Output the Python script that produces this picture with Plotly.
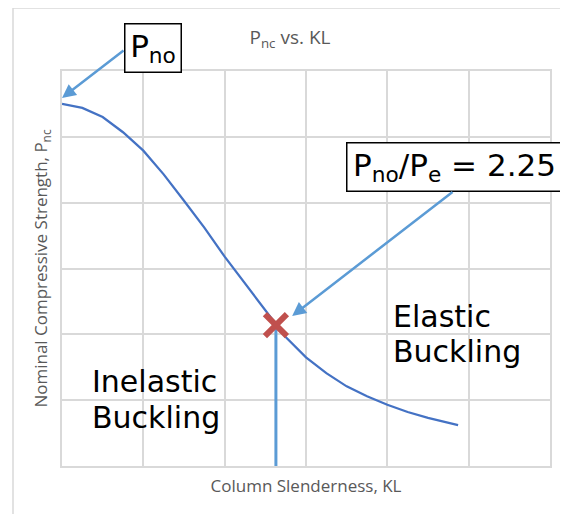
import plotly.graph_objects as go

# ---- data ----
kl = [0, 0.25, 0.5, 0.75, 1.0, 1.25, 1.5, 1.75, 2.0, 2.25, 2.5, 2.63,
      2.75, 3.0, 3.25, 3.5, 3.75, 4.0, 4.25, 4.5, 4.75, 4.87]
pnc = [5.50, 5.44, 5.30, 5.07, 4.79, 4.43, 4.03, 3.62, 3.18, 2.77, 2.36, 2.14,
       1.96, 1.65, 1.41, 1.21, 1.06, 0.93, 0.82, 0.73, 0.66, 0.62]
transition_kl = [2.63]
transition_pnc = [2.14]
drop_kl = [2.63, 2.63]
drop_pnc = [2.14, 0.0]

GRID = "#d9d9d9"
TXT = "#595959"
CURVE = "#4472C4"
LIGHT = "#5B9BD5"
RED = "#C0504D"

fig = go.Figure()
fig.add_trace(go.Scatter(x=kl, y=pnc, mode="lines",
                         line=dict(color=CURVE, width=2.25), hoverinfo="skip"))
fig.add_trace(go.Scatter(x=drop_kl, y=drop_pnc, mode="lines",
                         line=dict(color=LIGHT, width=3), hoverinfo="skip"))
fig.add_trace(go.Scatter(x=transition_kl, y=transition_pnc, mode="markers",
                         marker=dict(symbol="x-thin", size=22,
                                     line=dict(color=RED, width=6)),
                         hoverinfo="skip"))

OFF = 8  # page body margin
W, H = 568 - OFF, 514 - OFF
# plot area in page pixels: x 62..550, y 71..466
L, T = 62 - OFF, 71 - OFF
R = W - (550 - OFF)
B = H - (466 - OFF)
pw, ph = W - L - R, H - T - B


def px(xp):
    return (xp - OFF - L) / pw


def py(yp):
    return (H - B - (yp - OFF)) / ph


def big(text, x_left, baseline):
    size = 30
    return dict(xref="paper", yref="paper", x=px(x_left),
                y=py(baseline - 0.345 * size), text=text, showarrow=False,
                font=dict(family="DejaVu Sans", size=size, color="black"),
                xanchor="left", yanchor="middle")


annotations = [
    # P_no label box
    dict(xref="paper", yref="paper", x=px(152.5), y=py(48.5),
         text="P<sub>no</sub>", showarrow=False,
         font=dict(family="DejaVu Sans", size=31, color="black"),
         bgcolor="white", bordercolor="black", borderwidth=1.5, borderpad=4,
         width=47, height=39, xanchor="center", yanchor="middle"),
    # arrow to P_no
    dict(xref="x", yref="y", axref="x", ayref="y",
         x=0.0, y=5.59, ax=0.775, ay=6.33, text="",
         showarrow=True, arrowhead=2, arrowsize=1.1, arrowwidth=2.5,
         arrowcolor=LIGHT, standoff=0, startstandoff=0),
    # Pno/Pe box
    dict(xref="paper", yref="paper", x=px(454.5), y=py(167),
         text="P<sub>no</sub>/P<sub>e</sub> = 2.25", showarrow=False,
         font=dict(family="DejaVu Sans", size=31, color="black"),
         bgcolor="white", bordercolor="black", borderwidth=1.5, borderpad=4,
         width=206, height=39, xanchor="center", yanchor="middle"),
    # arrow to transition
    dict(xref="x", yref="y", axref="x", ayref="y",
         x=2.83, y=2.28, ax=4.82, ay=4.18, text="",
         showarrow=True, arrowhead=2, arrowsize=1.1, arrowwidth=2.5,
         arrowcolor=LIGHT, standoff=0, startstandoff=0),
    big("Inelastic", 90, 392),
    big("Buckling", 90, 428),
    big("Elastic", 391, 327),
    big("Buckling", 391, 362),
]

shapes = [
    # outer chart border (left and top)
    dict(type="line", xref="paper", yref="paper", x0=px(13), x1=px(13),
         y0=py(8), y1=py(530), line=dict(color=GRID, width=1.5)),
    dict(type="line", xref="paper", yref="paper", x0=px(13), x1=px(580),
         y0=py(8), y1=py(8), line=dict(color=GRID, width=1.5)),
    # white backdrops behind the region labels
    dict(type="rect", xref="paper", yref="paper", layer="between",
         x0=px(84), x1=px(236), y0=py(442), y1=py(355),
         fillcolor="white", line=dict(width=0)),
    dict(type="rect", xref="paper", yref="paper", layer="between",
         x0=px(383), x1=px(525), y0=py(378), y1=py(291),
         fillcolor="white", line=dict(width=0)),
]

fig.update_layout(
    width=W, height=H,
    margin=dict(l=L, r=R, t=T, b=B),
    paper_bgcolor="white", plot_bgcolor="white",
    showlegend=False,
    title=dict(text="P<sub>nc</sub> vs. KL", x=px(290), xref="paper",
               xanchor="center", y=1 - (37 - OFF) / H, yref="container",
               yanchor="middle",
               font=dict(family="Open Sans", size=19, color=TXT)),
    xaxis=dict(range=[0, 6], dtick=1, showgrid=True, gridcolor=GRID,
               gridwidth=1.5, showline=True, linecolor=GRID, linewidth=1.5,
               mirror=True, zeroline=False, showticklabels=False, ticks="",
               title=dict(text="Column Slenderness, KL", standoff=13,
                          font=dict(family="Open Sans", size=17, color=TXT))),
    yaxis=dict(range=[0, 6], dtick=1, showgrid=True, gridcolor=GRID,
               gridwidth=1.5, showline=True, linecolor=GRID, linewidth=1.5,
               mirror=True, zeroline=False, showticklabels=False, ticks="",
               title=dict(text="Nominal Compressive Strength, P<sub>nc</sub>",
                          standoff=8,
                          font=dict(family="Open Sans", size=17, color=TXT))),
    annotations=annotations,
    shapes=shapes,
)

fig.write_html("out.html")
